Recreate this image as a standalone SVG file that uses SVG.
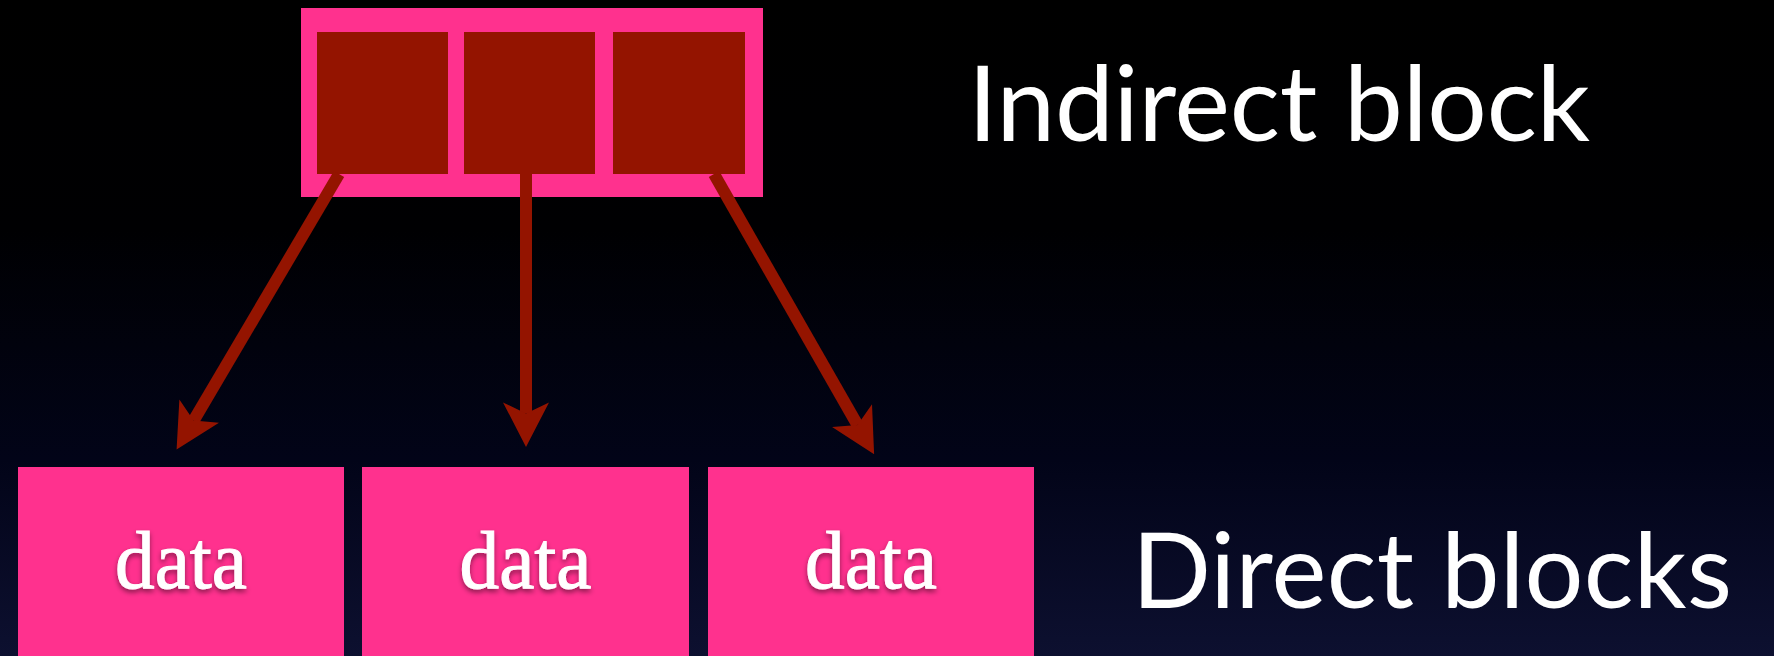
<svg xmlns="http://www.w3.org/2000/svg" width="1774" height="656" viewBox="0 0 1774 656">
  <defs>
    <linearGradient id="bg" x1="0" y1="0" x2="0" y2="1">
      <stop offset="0" stop-color="#000000"/>
      <stop offset="0.35" stop-color="#000002"/>
      <stop offset="0.7" stop-color="#020418"/>
      <stop offset="1" stop-color="#0d1030"/>
    </linearGradient>
    <filter id="shadow" x="-20%" y="-20%" width="140%" height="150%">
      <feDropShadow dx="0" dy="3" stdDeviation="2.5" flood-color="#000000" flood-opacity="0.45"/>
    </filter>
    <marker id="ah" markerUnits="userSpaceOnUse" viewBox="-12 -24 48 48" markerWidth="48" markerHeight="48" refX="0" refY="0" orient="auto" overflow="visible">
      <path d="M33.5,0 L-11,-23 L0,0 L-11,23 Z" fill="#941400"/>
    </marker>
    <style>
      .pink { fill: #ff318e; }
      .slot { fill: #941400; }
      .conn { stroke: #941400; stroke-width: 12; fill: none; marker-end: url(#ah); }
      .data { font-family: "Liberation Serif", serif; font-size: 82px; fill: #ffffff; stroke: #ffffff; stroke-width: 1; text-anchor: middle; filter: url(#shadow); }
      .label { font-family: "Lato", "Liberation Sans", sans-serif; fill: #ffffff; }
    </style>
  </defs>

  <rect x="0" y="0" width="1774" height="656" fill="url(#bg)"/>

  <g id="indirect-block">
    <rect class="pink" x="301" y="8" width="462" height="189"/>
    <rect class="slot" x="317" y="32" width="131" height="142"/>
    <rect class="slot" x="464" y="32" width="131" height="142"/>
    <rect class="slot" x="613" y="32" width="132" height="142"/>
  </g>

  <g id="connectors">
    <line class="conn" x1="339" y1="174" x2="193.6" y2="420.6"/>
    <line class="conn" x1="526" y1="174" x2="526" y2="413.4"/>
    <line class="conn" x1="714" y1="174" x2="857.5" y2="425.1"/>
  </g>

  <g id="data-1">
    <rect class="pink" x="18" y="467" width="326" height="189"/>
    <text class="data" x="181" y="588" textLength="132" lengthAdjust="spacingAndGlyphs">data</text>
  </g>
  <g id="data-2">
    <rect class="pink" x="362" y="467" width="327" height="189"/>
    <text class="data" x="525.5" y="588" textLength="132" lengthAdjust="spacingAndGlyphs">data</text>
  </g>
  <g id="data-3">
    <rect class="pink" x="708" y="467" width="326" height="189"/>
    <text class="data" x="871" y="588" textLength="132" lengthAdjust="spacingAndGlyphs">data</text>
  </g>

  <g id="label-indirect">
    <text class="label" x="968" y="141" font-size="105" textLength="622">Indirect block</text>
  </g>
  <g id="label-direct">
    <text class="label" x="1132" y="608" font-size="104" textLength="600">Direct blocks</text>
  </g>
</svg>
